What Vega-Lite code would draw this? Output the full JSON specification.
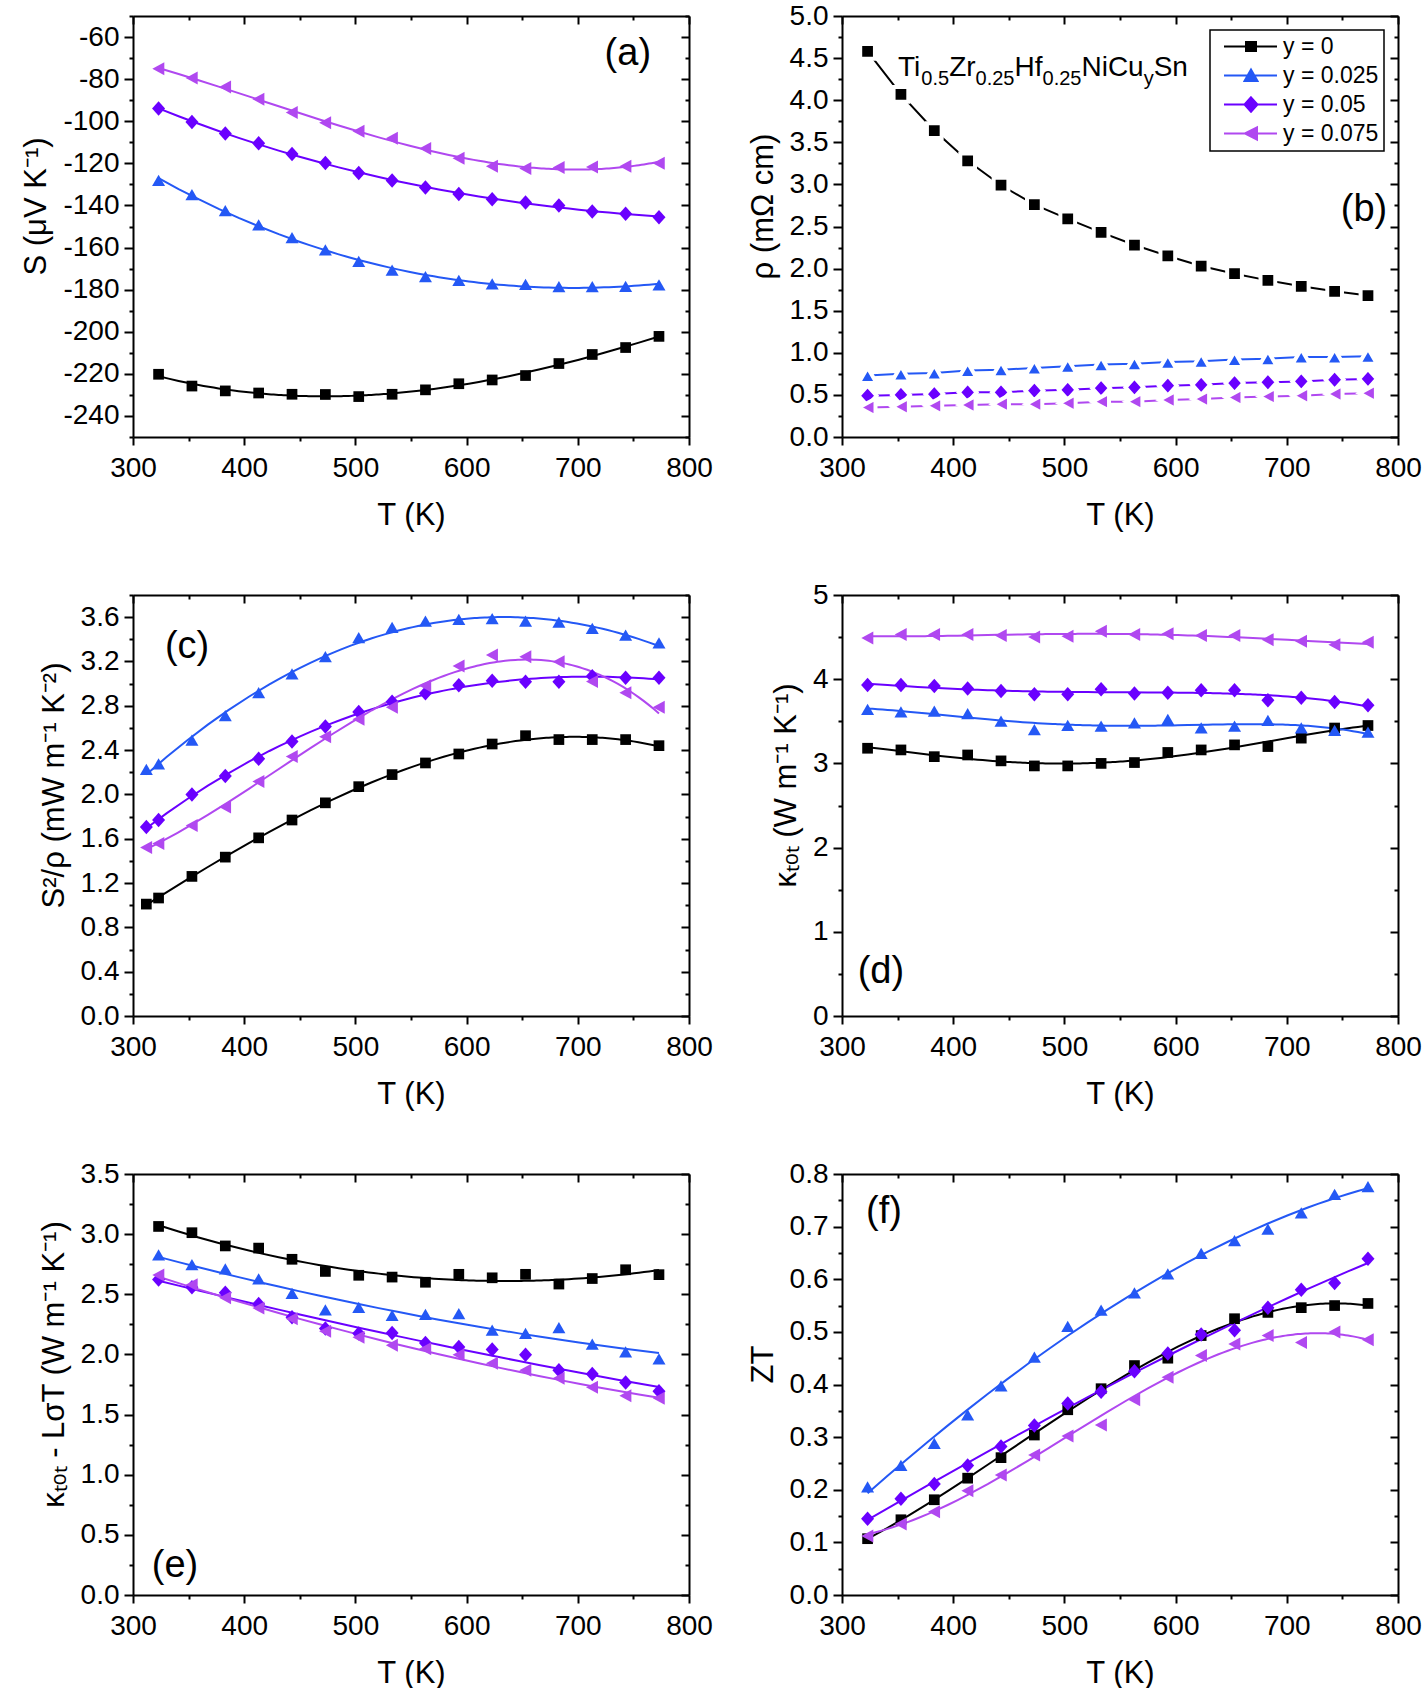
{
  "$schema": "https://vega.github.io/schema/vega-lite/v6.json",
  "background": "white",
  "padding": {"left": 20, "top": 2, "right": 0, "bottom": 0},
  "columns": 2,
  "spacing": {"row": 51, "column": 34},
  "resolve": {"scale": {"color": "independent", "shape": "independent", "stroke": "independent"}},
  "datasets": {
    "a": [
      {"T":323,"v":-220.2,"series":"y = 0"},{"T":353,"v":-225.8,"series":"y = 0"},{"T":383,"v":-228.1,"series":"y = 0"},{"T":413,"v":-229.1,"series":"y = 0"},{"T":443,"v":-229.7,"series":"y = 0"},{"T":473,"v":-229.8,"series":"y = 0"},{"T":503,"v":-230.8,"series":"y = 0"},{"T":533,"v":-229.7,"series":"y = 0"},{"T":563,"v":-227.6,"series":"y = 0"},{"T":593,"v":-224.7,"series":"y = 0"},{"T":623,"v":-222.9,"series":"y = 0"},{"T":653,"v":-220.8,"series":"y = 0"},{"T":683,"v":-215.1,"series":"y = 0"},{"T":713,"v":-210.8,"series":"y = 0"},{"T":743,"v":-207.5,"series":"y = 0"},{"T":773,"v":-202.2,"series":"y = 0"},
      {"T":323,"v":-128.1,"series":"y = 0.025"},{"T":353,"v":-134.9,"series":"y = 0.025"},{"T":383,"v":-142.5,"series":"y = 0.025"},{"T":413,"v":-149.3,"series":"y = 0.025"},{"T":443,"v":-155.3,"series":"y = 0.025"},{"T":473,"v":-161.2,"series":"y = 0.025"},{"T":503,"v":-166.6,"series":"y = 0.025"},{"T":533,"v":-170.8,"series":"y = 0.025"},{"T":563,"v":-173.9,"series":"y = 0.025"},{"T":593,"v":-175.6,"series":"y = 0.025"},{"T":623,"v":-177.3,"series":"y = 0.025"},{"T":653,"v":-177.6,"series":"y = 0.025"},{"T":683,"v":-178.6,"series":"y = 0.025"},{"T":713,"v":-178.6,"series":"y = 0.025"},{"T":743,"v":-178.5,"series":"y = 0.025"},{"T":773,"v":-177.8,"series":"y = 0.025"},
      {"T":323,"v":-93.9,"series":"y = 0.05"},{"T":353,"v":-100.3,"series":"y = 0.05"},{"T":383,"v":-105.8,"series":"y = 0.05"},{"T":413,"v":-110.5,"series":"y = 0.05"},{"T":443,"v":-115.6,"series":"y = 0.05"},{"T":473,"v":-119.8,"series":"y = 0.05"},{"T":503,"v":-124.6,"series":"y = 0.05"},{"T":533,"v":-128.1,"series":"y = 0.05"},{"T":563,"v":-131.5,"series":"y = 0.05"},{"T":593,"v":-134.6,"series":"y = 0.05"},{"T":623,"v":-137.1,"series":"y = 0.05"},{"T":653,"v":-138.6,"series":"y = 0.05"},{"T":683,"v":-140.0,"series":"y = 0.05"},{"T":713,"v":-142.9,"series":"y = 0.05"},{"T":743,"v":-143.9,"series":"y = 0.05"},{"T":773,"v":-145.6,"series":"y = 0.05"},
      {"T":323,"v":-75.1,"series":"y = 0.075"},{"T":353,"v":-79.5,"series":"y = 0.075"},{"T":383,"v":-83.7,"series":"y = 0.075"},{"T":413,"v":-89.5,"series":"y = 0.075"},{"T":443,"v":-95.9,"series":"y = 0.075"},{"T":473,"v":-100.7,"series":"y = 0.075"},{"T":503,"v":-104.7,"series":"y = 0.075"},{"T":533,"v":-108.1,"series":"y = 0.075"},{"T":563,"v":-112.9,"series":"y = 0.075"},{"T":593,"v":-117.6,"series":"y = 0.075"},{"T":623,"v":-121.4,"series":"y = 0.075"},{"T":653,"v":-122.4,"series":"y = 0.075"},{"T":683,"v":-122.0,"series":"y = 0.075"},{"T":713,"v":-121.7,"series":"y = 0.075"},{"T":743,"v":-121.4,"series":"y = 0.075"},{"T":773,"v":-120.0,"series":"y = 0.075"}
    ],
    "b": [
      {"T":323,"v":4.58,"series":"y = 0"},{"T":353,"v":4.07,"series":"y = 0"},{"T":383,"v":3.64,"series":"y = 0"},{"T":413,"v":3.28,"series":"y = 0"},{"T":443,"v":2.99,"series":"y = 0"},{"T":473,"v":2.76,"series":"y = 0"},{"T":503,"v":2.59,"series":"y = 0"},{"T":533,"v":2.43,"series":"y = 0"},{"T":563,"v":2.28,"series":"y = 0"},{"T":593,"v":2.15,"series":"y = 0"},{"T":623,"v":2.03,"series":"y = 0"},{"T":653,"v":1.94,"series":"y = 0"},{"T":683,"v":1.86,"series":"y = 0"},{"T":713,"v":1.79,"series":"y = 0"},{"T":743,"v":1.73,"series":"y = 0"},{"T":773,"v":1.68,"series":"y = 0"},
      {"T":323,"v":0.73,"series":"y = 0.025"},{"T":353,"v":0.75,"series":"y = 0.025"},{"T":383,"v":0.76,"series":"y = 0.025"},{"T":413,"v":0.79,"series":"y = 0.025"},{"T":443,"v":0.80,"series":"y = 0.025"},{"T":473,"v":0.82,"series":"y = 0.025"},{"T":503,"v":0.84,"series":"y = 0.025"},{"T":533,"v":0.86,"series":"y = 0.025"},{"T":563,"v":0.87,"series":"y = 0.025"},{"T":593,"v":0.89,"series":"y = 0.025"},{"T":623,"v":0.90,"series":"y = 0.025"},{"T":653,"v":0.92,"series":"y = 0.025"},{"T":683,"v":0.93,"series":"y = 0.025"},{"T":713,"v":0.95,"series":"y = 0.025"},{"T":743,"v":0.95,"series":"y = 0.025"},{"T":773,"v":0.96,"series":"y = 0.025"},
      {"T":323,"v":0.49,"series":"y = 0.05"},{"T":353,"v":0.50,"series":"y = 0.05"},{"T":383,"v":0.51,"series":"y = 0.05"},{"T":413,"v":0.53,"series":"y = 0.05"},{"T":443,"v":0.53,"series":"y = 0.05"},{"T":473,"v":0.55,"series":"y = 0.05"},{"T":503,"v":0.56,"series":"y = 0.05"},{"T":533,"v":0.58,"series":"y = 0.05"},{"T":563,"v":0.59,"series":"y = 0.05"},{"T":593,"v":0.61,"series":"y = 0.05"},{"T":623,"v":0.62,"series":"y = 0.05"},{"T":653,"v":0.64,"series":"y = 0.05"},{"T":683,"v":0.65,"series":"y = 0.05"},{"T":713,"v":0.66,"series":"y = 0.05"},{"T":743,"v":0.68,"series":"y = 0.05"},{"T":773,"v":0.69,"series":"y = 0.05"},
      {"T":323,"v":0.35,"series":"y = 0.075"},{"T":353,"v":0.36,"series":"y = 0.075"},{"T":383,"v":0.37,"series":"y = 0.075"},{"T":413,"v":0.38,"series":"y = 0.075"},{"T":443,"v":0.39,"series":"y = 0.075"},{"T":473,"v":0.39,"series":"y = 0.075"},{"T":503,"v":0.40,"series":"y = 0.075"},{"T":533,"v":0.42,"series":"y = 0.075"},{"T":563,"v":0.42,"series":"y = 0.075"},{"T":593,"v":0.44,"series":"y = 0.075"},{"T":623,"v":0.45,"series":"y = 0.075"},{"T":653,"v":0.47,"series":"y = 0.075"},{"T":683,"v":0.48,"series":"y = 0.075"},{"T":713,"v":0.49,"series":"y = 0.075"},{"T":743,"v":0.51,"series":"y = 0.075"},{"T":773,"v":0.52,"series":"y = 0.075"}
    ],
    "c": [
      {"T":312,"v":1.01,"series":"y = 0"},{"T":323,"v":1.065,"series":"y = 0"},{"T":353,"v":1.26,"series":"y = 0"},{"T":383,"v":1.434,"series":"y = 0"},{"T":413,"v":1.608,"series":"y = 0"},{"T":443,"v":1.769,"series":"y = 0"},{"T":473,"v":1.924,"series":"y = 0"},{"T":503,"v":2.07,"series":"y = 0"},{"T":533,"v":2.179,"series":"y = 0"},{"T":563,"v":2.284,"series":"y = 0"},{"T":593,"v":2.365,"series":"y = 0"},{"T":623,"v":2.455,"series":"y = 0"},{"T":653,"v":2.53,"series":"y = 0"},{"T":683,"v":2.495,"series":"y = 0"},{"T":713,"v":2.495,"series":"y = 0"},{"T":743,"v":2.495,"series":"y = 0"},{"T":773,"v":2.44,"series":"y = 0"},
      {"T":312,"v":2.225,"series":"y = 0.025"},{"T":323,"v":2.275,"series":"y = 0.025"},{"T":353,"v":2.49,"series":"y = 0.025"},{"T":383,"v":2.71,"series":"y = 0.025"},{"T":413,"v":2.917,"series":"y = 0.025"},{"T":443,"v":3.088,"series":"y = 0.025"},{"T":473,"v":3.243,"series":"y = 0.025"},{"T":503,"v":3.414,"series":"y = 0.025"},{"T":533,"v":3.507,"series":"y = 0.025"},{"T":563,"v":3.563,"series":"y = 0.025"},{"T":593,"v":3.578,"series":"y = 0.025"},{"T":623,"v":3.585,"series":"y = 0.025"},{"T":653,"v":3.563,"series":"y = 0.025"},{"T":683,"v":3.554,"series":"y = 0.025"},{"T":713,"v":3.498,"series":"y = 0.025"},{"T":743,"v":3.436,"series":"y = 0.025"},{"T":773,"v":3.367,"series":"y = 0.025"},
      {"T":312,"v":1.707,"series":"y = 0.05"},{"T":323,"v":1.769,"series":"y = 0.05"},{"T":353,"v":1.999,"series":"y = 0.05"},{"T":383,"v":2.166,"series":"y = 0.05"},{"T":413,"v":2.321,"series":"y = 0.05"},{"T":443,"v":2.477,"series":"y = 0.05"},{"T":473,"v":2.613,"series":"y = 0.05"},{"T":503,"v":2.744,"series":"y = 0.05"},{"T":533,"v":2.837,"series":"y = 0.05"},{"T":563,"v":2.914,"series":"y = 0.05"},{"T":593,"v":2.986,"series":"y = 0.05"},{"T":623,"v":3.026,"series":"y = 0.05"},{"T":653,"v":3.017,"series":"y = 0.05"},{"T":683,"v":3.017,"series":"y = 0.05"},{"T":713,"v":3.066,"series":"y = 0.05"},{"T":743,"v":3.054,"series":"y = 0.05"},{"T":773,"v":3.054,"series":"y = 0.05"},
      {"T":312,"v":1.521,"series":"y = 0.075"},{"T":323,"v":1.558,"series":"y = 0.075"},{"T":353,"v":1.719,"series":"y = 0.075"},{"T":383,"v":1.887,"series":"y = 0.075"},{"T":413,"v":2.117,"series":"y = 0.075"},{"T":443,"v":2.343,"series":"y = 0.075"},{"T":473,"v":2.52,"series":"y = 0.075"},{"T":503,"v":2.678,"series":"y = 0.075"},{"T":533,"v":2.787,"series":"y = 0.075"},{"T":563,"v":2.98,"series":"y = 0.075"},{"T":593,"v":3.16,"series":"y = 0.075"},{"T":623,"v":3.259,"series":"y = 0.075"},{"T":653,"v":3.243,"series":"y = 0.075"},{"T":683,"v":3.197,"series":"y = 0.075"},{"T":713,"v":3.02,"series":"y = 0.075"},{"T":743,"v":2.917,"series":"y = 0.075"},{"T":773,"v":2.787,"series":"y = 0.075"}
    ],
    "d": [
      {"T":323,"v":3.18,"series":"y = 0"},{"T":353,"v":3.16,"series":"y = 0"},{"T":383,"v":3.08,"series":"y = 0"},{"T":413,"v":3.10,"series":"y = 0"},{"T":443,"v":3.03,"series":"y = 0"},{"T":473,"v":2.97,"series":"y = 0"},{"T":503,"v":2.97,"series":"y = 0"},{"T":533,"v":3.00,"series":"y = 0"},{"T":563,"v":3.01,"series":"y = 0"},{"T":593,"v":3.13,"series":"y = 0"},{"T":623,"v":3.16,"series":"y = 0"},{"T":653,"v":3.22,"series":"y = 0"},{"T":683,"v":3.20,"series":"y = 0"},{"T":713,"v":3.30,"series":"y = 0"},{"T":743,"v":3.42,"series":"y = 0"},{"T":773,"v":3.45,"series":"y = 0"},
      {"T":323,"v":3.64,"series":"y = 0.025"},{"T":353,"v":3.61,"series":"y = 0.025"},{"T":383,"v":3.62,"series":"y = 0.025"},{"T":413,"v":3.59,"series":"y = 0.025"},{"T":443,"v":3.50,"series":"y = 0.025"},{"T":473,"v":3.40,"series":"y = 0.025"},{"T":503,"v":3.45,"series":"y = 0.025"},{"T":533,"v":3.44,"series":"y = 0.025"},{"T":563,"v":3.48,"series":"y = 0.025"},{"T":593,"v":3.52,"series":"y = 0.025"},{"T":623,"v":3.42,"series":"y = 0.025"},{"T":653,"v":3.44,"series":"y = 0.025"},{"T":683,"v":3.51,"series":"y = 0.025"},{"T":713,"v":3.42,"series":"y = 0.025"},{"T":743,"v":3.39,"series":"y = 0.025"},{"T":773,"v":3.37,"series":"y = 0.025"},
      {"T":323,"v":3.93,"series":"y = 0.05"},{"T":353,"v":3.93,"series":"y = 0.05"},{"T":383,"v":3.92,"series":"y = 0.05"},{"T":413,"v":3.89,"series":"y = 0.05"},{"T":443,"v":3.86,"series":"y = 0.05"},{"T":473,"v":3.82,"series":"y = 0.05"},{"T":503,"v":3.82,"series":"y = 0.05"},{"T":533,"v":3.88,"series":"y = 0.05"},{"T":563,"v":3.83,"series":"y = 0.05"},{"T":593,"v":3.84,"series":"y = 0.05"},{"T":623,"v":3.87,"series":"y = 0.05"},{"T":653,"v":3.87,"series":"y = 0.05"},{"T":683,"v":3.75,"series":"y = 0.05"},{"T":713,"v":3.78,"series":"y = 0.05"},{"T":743,"v":3.73,"series":"y = 0.05"},{"T":773,"v":3.69,"series":"y = 0.05"},
      {"T":323,"v":4.49,"series":"y = 0.075"},{"T":353,"v":4.53,"series":"y = 0.075"},{"T":383,"v":4.53,"series":"y = 0.075"},{"T":413,"v":4.53,"series":"y = 0.075"},{"T":443,"v":4.52,"series":"y = 0.075"},{"T":473,"v":4.50,"series":"y = 0.075"},{"T":503,"v":4.51,"series":"y = 0.075"},{"T":533,"v":4.57,"series":"y = 0.075"},{"T":563,"v":4.53,"series":"y = 0.075"},{"T":593,"v":4.54,"series":"y = 0.075"},{"T":623,"v":4.52,"series":"y = 0.075"},{"T":653,"v":4.52,"series":"y = 0.075"},{"T":683,"v":4.47,"series":"y = 0.075"},{"T":713,"v":4.45,"series":"y = 0.075"},{"T":743,"v":4.41,"series":"y = 0.075"},{"T":773,"v":4.44,"series":"y = 0.075"}
    ],
    "e": [
      {"T":323,"v":3.064,"series":"y = 0"},{"T":353,"v":3.012,"series":"y = 0"},{"T":383,"v":2.902,"series":"y = 0"},{"T":413,"v":2.884,"series":"y = 0"},{"T":443,"v":2.791,"series":"y = 0"},{"T":473,"v":2.69,"series":"y = 0"},{"T":503,"v":2.658,"series":"y = 0"},{"T":533,"v":2.643,"series":"y = 0"},{"T":563,"v":2.6,"series":"y = 0"},{"T":593,"v":2.666,"series":"y = 0"},{"T":623,"v":2.637,"series":"y = 0"},{"T":653,"v":2.666,"series":"y = 0"},{"T":683,"v":2.585,"series":"y = 0"},{"T":713,"v":2.631,"series":"y = 0"},{"T":743,"v":2.704,"series":"y = 0"},{"T":773,"v":2.663,"series":"y = 0"},
      {"T":323,"v":2.826,"series":"y = 0.025"},{"T":353,"v":2.745,"series":"y = 0.025"},{"T":383,"v":2.71,"series":"y = 0.025"},{"T":413,"v":2.628,"series":"y = 0.025"},{"T":443,"v":2.506,"series":"y = 0.025"},{"T":473,"v":2.37,"series":"y = 0.025"},{"T":503,"v":2.39,"series":"y = 0.025"},{"T":533,"v":2.324,"series":"y = 0.025"},{"T":563,"v":2.332,"series":"y = 0.025"},{"T":593,"v":2.338,"series":"y = 0.025"},{"T":623,"v":2.202,"series":"y = 0.025"},{"T":653,"v":2.173,"series":"y = 0.025"},{"T":683,"v":2.222,"series":"y = 0.025"},{"T":713,"v":2.085,"series":"y = 0.025"},{"T":743,"v":2.021,"series":"y = 0.025"},{"T":773,"v":1.963,"series":"y = 0.025"},
      {"T":323,"v":2.623,"series":"y = 0.05"},{"T":353,"v":2.559,"series":"y = 0.05"},{"T":383,"v":2.512,"series":"y = 0.05"},{"T":413,"v":2.419,"series":"y = 0.05"},{"T":443,"v":2.309,"series":"y = 0.05"},{"T":473,"v":2.216,"series":"y = 0.05"},{"T":503,"v":2.173,"series":"y = 0.05"},{"T":533,"v":2.178,"series":"y = 0.05"},{"T":563,"v":2.094,"series":"y = 0.05"},{"T":593,"v":2.062,"series":"y = 0.05"},{"T":623,"v":2.042,"series":"y = 0.05"},{"T":653,"v":1.998,"series":"y = 0.05"},{"T":683,"v":1.868,"series":"y = 0.05"},{"T":713,"v":1.838,"series":"y = 0.05"},{"T":743,"v":1.766,"series":"y = 0.05"},{"T":773,"v":1.693,"series":"y = 0.05"},
      {"T":323,"v":2.66,"series":"y = 0.075"},{"T":353,"v":2.579,"series":"y = 0.075"},{"T":383,"v":2.472,"series":"y = 0.075"},{"T":413,"v":2.385,"series":"y = 0.075"},{"T":443,"v":2.297,"series":"y = 0.075"},{"T":473,"v":2.193,"series":"y = 0.075"},{"T":503,"v":2.143,"series":"y = 0.075"},{"T":533,"v":2.077,"series":"y = 0.075"},{"T":563,"v":2.048,"series":"y = 0.075"},{"T":593,"v":1.998,"series":"y = 0.075"},{"T":623,"v":1.926,"series":"y = 0.075"},{"T":653,"v":1.868,"series":"y = 0.075"},{"T":683,"v":1.801,"series":"y = 0.075"},{"T":713,"v":1.728,"series":"y = 0.075"},{"T":743,"v":1.656,"series":"y = 0.075"},{"T":773,"v":1.635,"series":"y = 0.075"}
    ],
    "f": [
      {"T":323,"v":0.107,"series":"y = 0"},{"T":353,"v":0.143,"series":"y = 0"},{"T":383,"v":0.181,"series":"y = 0"},{"T":413,"v":0.222,"series":"y = 0"},{"T":443,"v":0.261,"series":"y = 0"},{"T":473,"v":0.304,"series":"y = 0"},{"T":503,"v":0.352,"series":"y = 0"},{"T":533,"v":0.392,"series":"y = 0"},{"T":563,"v":0.436,"series":"y = 0"},{"T":593,"v":0.45,"series":"y = 0"},{"T":623,"v":0.493,"series":"y = 0"},{"T":653,"v":0.525,"series":"y = 0"},{"T":683,"v":0.537,"series":"y = 0"},{"T":713,"v":0.546,"series":"y = 0"},{"T":743,"v":0.55,"series":"y = 0"},{"T":773,"v":0.554,"series":"y = 0"},
      {"T":323,"v":0.205,"series":"y = 0.025"},{"T":353,"v":0.246,"series":"y = 0.025"},{"T":383,"v":0.288,"series":"y = 0.025"},{"T":413,"v":0.342,"series":"y = 0.025"},{"T":443,"v":0.397,"series":"y = 0.025"},{"T":473,"v":0.452,"series":"y = 0.025"},{"T":503,"v":0.51,"series":"y = 0.025"},{"T":533,"v":0.541,"series":"y = 0.025"},{"T":563,"v":0.574,"series":"y = 0.025"},{"T":593,"v":0.61,"series":"y = 0.025"},{"T":623,"v":0.649,"series":"y = 0.025"},{"T":653,"v":0.673,"series":"y = 0.025"},{"T":683,"v":0.695,"series":"y = 0.025"},{"T":713,"v":0.726,"series":"y = 0.025"},{"T":743,"v":0.761,"series":"y = 0.025"},{"T":773,"v":0.776,"series":"y = 0.025"},
      {"T":323,"v":0.145,"series":"y = 0.05"},{"T":353,"v":0.183,"series":"y = 0.05"},{"T":383,"v":0.211,"series":"y = 0.05"},{"T":413,"v":0.246,"series":"y = 0.05"},{"T":443,"v":0.282,"series":"y = 0.05"},{"T":473,"v":0.322,"series":"y = 0.05"},{"T":503,"v":0.364,"series":"y = 0.05"},{"T":533,"v":0.386,"series":"y = 0.05"},{"T":563,"v":0.425,"series":"y = 0.05"},{"T":593,"v":0.459,"series":"y = 0.05"},{"T":623,"v":0.495,"series":"y = 0.05"},{"T":653,"v":0.503,"series":"y = 0.05"},{"T":683,"v":0.546,"series":"y = 0.05"},{"T":713,"v":0.58,"series":"y = 0.05"},{"T":743,"v":0.593,"series":"y = 0.05"},{"T":773,"v":0.639,"series":"y = 0.05"},
      {"T":323,"v":0.112,"series":"y = 0.075"},{"T":353,"v":0.135,"series":"y = 0.075"},{"T":383,"v":0.158,"series":"y = 0.075"},{"T":413,"v":0.198,"series":"y = 0.075"},{"T":443,"v":0.228,"series":"y = 0.075"},{"T":473,"v":0.266,"series":"y = 0.075"},{"T":503,"v":0.302,"series":"y = 0.075"},{"T":533,"v":0.323,"series":"y = 0.075"},{"T":563,"v":0.371,"series":"y = 0.075"},{"T":593,"v":0.414,"series":"y = 0.075"},{"T":623,"v":0.455,"series":"y = 0.075"},{"T":653,"v":0.477,"series":"y = 0.075"},{"T":683,"v":0.493,"series":"y = 0.075"},{"T":713,"v":0.48,"series":"y = 0.075"},{"T":743,"v":0.5,"series":"y = 0.075"},{"T":773,"v":0.485,"series":"y = 0.075"}
    ]
  },
  "concat": [
    {
      "width": 556, "height": 421,
      "data": {"name": "a"},
      "resolve": {"axis": {"x": "independent", "y": "independent"}},
      "layer": [
        {
          "transform": [{"regression": "v", "on": "T", "groupby": ["series"], "method": "poly", "order": 3}],
          "mark": {"type": "line", "strokeWidth": 2},
          "encoding": {
            "x": {"field": "T", "type": "quantitative", "scale": {"domain": [300, 800], "nice": false, "zero": false}, "axis": {"orient": "bottom", "values": [300,400,500,600,700,800], "tickSize": 8, "labelPadding": 9, "format": "d", "title": "T (K)", "titlePadding": 18}},
            "y": {"field": "v", "type": "quantitative", "scale": {"domain": [-250, -50], "nice": false, "zero": false}, "axis": {"orient": "left", "values": [-240,-220,-200,-180,-160,-140,-120,-100,-80,-60], "tickSize": 9, "labelPadding": 5, "labelExpr": "'' + datum.value", "title": "S (μV K⁻¹)", "titlePadding": 10, "titleY": 190}},
            "color": {"field": "series", "type": "nominal", "scale": {"domain": ["y = 0","y = 0.025","y = 0.05","y = 0.075"], "range": ["#000000","#2458F5","#6A00FF","#B048F0"]}, "legend": null}
          }
        },
        {
          "mark": {"type": "point", "filled": true, "opacity": 1, "size": 100},
          "encoding": {
            "x": {"field": "T", "type": "quantitative", "axis": {"orient": "top", "values": [300,400,500,600,700,800], "tickSize": -8, "labels": false, "title": null}},
            "y": {"field": "v", "type": "quantitative", "axis": {"orient": "right", "values": [-240,-220,-200,-180,-160,-140,-120,-100,-80,-60], "tickSize": -8, "labels": false, "title": null}},
            "color": {"field": "series", "type": "nominal", "legend": null},
            "shape": {"field": "series", "type": "nominal", "scale": {"domain": ["y = 0","y = 0.025","y = 0.05","y = 0.075"], "range": ["M-1.07,-1.07H1.07V1.07H-1.07Z","M-1.3,1.1L0,-1.15L1.3,1.1Z","M0,-1.45L1.3,0L0,1.45L-1.3,0Z","M-1.25,0L1.15,-1.3L1.15,1.3Z"]}, "legend": null}
          }
        },
        {
          "mark": {"type": "point", "opacity": 0},
          "encoding": {
            "x": {"field": "T", "type": "quantitative", "axis": {"orient": "bottom", "values": [350,450,550,650,750], "tickSize": 4, "labels": false, "domain": false, "title": null}},
            "y": {"field": "v", "type": "quantitative", "axis": {"orient": "left", "values": [-250,-230,-210,-190,-170,-150,-130,-110,-90,-70,-50], "tickSize": 4, "labels": false, "domain": false, "title": null}}
          }
        },
        {
          "mark": {"type": "point", "opacity": 0},
          "encoding": {
            "x": {"field": "T", "type": "quantitative", "axis": {"orient": "top", "values": [350,450,550,650,750], "tickSize": -4, "labels": false, "domain": false, "title": null}},
            "y": {"field": "v", "type": "quantitative", "axis": {"orient": "right", "values": [-250,-230,-210,-190,-170,-150,-130,-110,-90,-70,-50], "tickSize": -4, "labels": false, "domain": false, "title": null}}
          }
        },
        {
          "data": {"values": [{"label": "(a)"}]},
          "mark": {"type": "text", "fontSize": 38, "font": "Liberation Sans", "align": "center", "baseline": "middle", "color": "black"},
          "encoding": {"text": {"field": "label"}, "x": {"datum": 745, "type": "quantitative", "axis": null}, "y": {"datum": -68, "type": "quantitative", "axis": null}}
        }
      ]
    },
    {
      "width": 556, "height": 421,
      "data": {"name": "b"},
      "resolve": {"axis": {"x": "independent", "y": "independent"}, "scale": {"color": "independent", "shape": "independent", "stroke": "independent"}},
      "layer": [
        {
          "mark": {"type": "line", "strokeWidth": 2},
          "encoding": {
            "x": {"field": "T", "type": "quantitative", "scale": {"domain": [300, 800], "nice": false, "zero": false}, "axis": {"orient": "bottom", "values": [300,400,500,600,700,800], "tickSize": 8, "labelPadding": 9, "format": "d", "title": "T (K)", "titlePadding": 18}},
            "y": {"field": "v", "type": "quantitative", "scale": {"domain": [0, 5], "nice": false, "zero": false}, "axis": {"orient": "left", "values": [0,0.5,1,1.5,2,2.5,3,3.5,4,4.5,5], "tickSize": 9, "labelPadding": 5, "format": ".1f", "title": "ρ (mΩ cm)", "titlePadding": 10, "titleY": 190}},
            "color": {"field": "series", "type": "nominal", "scale": {"domain": ["y = 0","y = 0.025","y = 0.05","y = 0.075"], "range": ["#000000","#2458F5","#6A00FF","#B048F0"]}, "legend": null}
          }
        },
        {
          "mark": {"type": "point", "filled": true, "opacity": 1, "size": 190, "stroke": "white", "strokeWidth": 4},
          "encoding": {
            "x": {"field": "T", "type": "quantitative", "axis": {"orient": "top", "values": [300,400,500,600,700,800], "tickSize": -8, "labels": false, "title": null}},
            "y": {"field": "v", "type": "quantitative", "axis": {"orient": "right", "values": [0,0.5,1,1.5,2,2.5,3,3.5,4,4.5,5], "tickSize": -8, "labels": false, "title": null}},
            "color": {"field": "series", "type": "nominal", "scale": {"domain": ["y = 0","y = 0.025","y = 0.05","y = 0.075"], "range": ["#000000","#2458F5","#6A00FF","#B048F0"]}, "legend": null},
            "shape": {"field": "series", "type": "nominal", "scale": {"domain": ["y = 0","y = 0.025","y = 0.05","y = 0.075"], "range": ["M-1.07,-1.07H1.07V1.07H-1.07Z","M-1.3,1.1L0,-1.15L1.3,1.1Z","M0,-1.45L1.3,0L0,1.45L-1.3,0Z","M-1.25,0L1.15,-1.3L1.15,1.3Z"]}, "legend": null}
          }
        },
        {
          "mark": {"type": "point", "filled": true, "opacity": 0, "size": 400},
          "encoding": {
            "x": {"field": "T", "type": "quantitative", "axis": null},
            "y": {"field": "v", "type": "quantitative", "axis": null},
            "color": {"field": "series", "type": "nominal", "scale": {"domain": ["y = 0","y = 0.025","y = 0.05","y = 0.075"], "range": ["#000000","#2458F5","#6A00FF","#B048F0"]}, "legend": {
              "orient": "top-right", "offset": 14, "title": null, "padding": 5, "rowPadding": 5,
              "labelFont": "Liberation Sans", "labelFontSize": 23, "labelColor": "black", "labelOffset": 45,
              "symbolSize": 400, "symbolStrokeWidth": 2, "symbolOpacity": 1, "strokeColor": "black", "fillColor": "white"
            }},
            "stroke": {"field": "series", "type": "nominal", "scale": {"domain": ["y = 0","y = 0.025","y = 0.05","y = 0.075"], "range": ["#000000","#2458F5","#6A00FF","#B048F0"]}},
            "shape": {"field": "series", "type": "nominal", "scale": {"domain": ["y = 0","y = 0.025","y = 0.05","y = 0.075"], "range": [
              "M-0.25,0H5.05M1.95,-0.45H2.95V0.45H1.95ZM1.95,-0.3H2.95M1.95,-0.15H2.95M1.95,0.15H2.95M1.95,0.3H2.95",
              "M-0.25,0H5.05M1.8,0.55L2.45,-0.6L3.1,0.55ZM2.365,-0.45H2.535M2.28,-0.3H2.62M2.196,-0.15H2.704M2.026,0.15H2.874M1.941,0.3H2.959M1.857,0.45H3.043",
              "M-0.25,0H5.05M2.45,-0.72L3.1,0L2.45,0.72L1.8,0ZM2.342,-0.6H2.558M2.206,-0.45H2.694M2.071,-0.3H2.829M1.935,-0.15H2.965M1.935,0.15H2.965M2.071,0.3H2.829M2.206,0.45H2.694M2.342,0.6H2.558",
              "M-0.25,0H5.05M1.85,0L3.05,-0.62L3.05,0.62ZM2.721,-0.45H3.05M2.431,-0.3H3.05M2.14,-0.15H3.05M2.14,0.15H3.05M2.431,0.3H3.05M2.721,0.45H3.05"
            ]}}
          }
        },
        {
          "mark": {"type": "point", "opacity": 0},
          "encoding": {
            "x": {"field": "T", "type": "quantitative", "axis": {"orient": "bottom", "values": [350,450,550,650,750], "tickSize": 4, "labels": false, "domain": false, "title": null}},
            "y": {"field": "v", "type": "quantitative", "axis": {"orient": "left", "values": [0.25,0.75,1.25,1.75,2.25,2.75,3.25,3.75,4.25,4.75], "tickSize": 4, "labels": false, "domain": false, "title": null}}
          }
        },
        {
          "mark": {"type": "point", "opacity": 0},
          "encoding": {
            "x": {"field": "T", "type": "quantitative", "axis": {"orient": "top", "values": [350,450,550,650,750], "tickSize": -4, "labels": false, "domain": false, "title": null}},
            "y": {"field": "v", "type": "quantitative", "axis": {"orient": "right", "values": [0.25,0.75,1.25,1.75,2.25,2.75,3.25,3.75,4.25,4.75], "tickSize": -4, "labels": false, "domain": false, "title": null}}
          }
        },
        {
          "data": {"values": [{"label": "(b)"}]},
          "mark": {"type": "text", "fontSize": 38, "font": "Liberation Sans", "align": "center", "baseline": "middle", "color": "black"},
          "encoding": {"text": {"field": "label"}, "x": {"datum": 769.4, "type": "quantitative", "axis": null}, "y": {"datum": 2.7, "type": "quantitative", "axis": null}}
        },
        {
          "data": {"values": [{"label": "Ti"}]},
          "mark": {"type": "text", "fontSize": 28, "font": "Liberation Sans", "align": "left", "baseline": "alphabetic", "color": "black", "dx": 0},
          "encoding": {"text": {"field": "label"}, "x": {"datum": 350.4, "type": "quantitative", "axis": null}, "y": {"datum": 4.286, "type": "quantitative", "axis": null}}
        },
        {
          "data": {"values": [{"label": "0.5"}]},
          "mark": {"type": "text", "fontSize": 20, "font": "Liberation Sans", "align": "left", "baseline": "alphabetic", "color": "black", "dx": 23.3, "dy": 9},
          "encoding": {"text": {"field": "label"}, "x": {"datum": 350.4, "type": "quantitative", "axis": null}, "y": {"datum": 4.286, "type": "quantitative", "axis": null}}
        },
        {
          "data": {"values": [{"label": "Zr"}]},
          "mark": {"type": "text", "fontSize": 28, "font": "Liberation Sans", "align": "left", "baseline": "alphabetic", "color": "black", "dx": 51.1},
          "encoding": {"text": {"field": "label"}, "x": {"datum": 350.4, "type": "quantitative", "axis": null}, "y": {"datum": 4.286, "type": "quantitative", "axis": null}}
        },
        {
          "data": {"values": [{"label": "0.25"}]},
          "mark": {"type": "text", "fontSize": 20, "font": "Liberation Sans", "align": "left", "baseline": "alphabetic", "color": "black", "dx": 77.5, "dy": 9},
          "encoding": {"text": {"field": "label"}, "x": {"datum": 350.4, "type": "quantitative", "axis": null}, "y": {"datum": 4.286, "type": "quantitative", "axis": null}}
        },
        {
          "data": {"values": [{"label": "Hf"}]},
          "mark": {"type": "text", "fontSize": 28, "font": "Liberation Sans", "align": "left", "baseline": "alphabetic", "color": "black", "dx": 116.5},
          "encoding": {"text": {"field": "label"}, "x": {"datum": 350.4, "type": "quantitative", "axis": null}, "y": {"datum": 4.286, "type": "quantitative", "axis": null}}
        },
        {
          "data": {"values": [{"label": "0.25"}]},
          "mark": {"type": "text", "fontSize": 20, "font": "Liberation Sans", "align": "left", "baseline": "alphabetic", "color": "black", "dx": 144.5, "dy": 9},
          "encoding": {"text": {"field": "label"}, "x": {"datum": 350.4, "type": "quantitative", "axis": null}, "y": {"datum": 4.286, "type": "quantitative", "axis": null}}
        },
        {
          "data": {"values": [{"label": "NiCu"}]},
          "mark": {"type": "text", "fontSize": 28, "font": "Liberation Sans", "align": "left", "baseline": "alphabetic", "color": "black", "dx": 183.4},
          "encoding": {"text": {"field": "label"}, "x": {"datum": 350.4, "type": "quantitative", "axis": null}, "y": {"datum": 4.286, "type": "quantitative", "axis": null}}
        },
        {
          "data": {"values": [{"label": "y"}]},
          "mark": {"type": "text", "fontSize": 20, "font": "Liberation Sans", "align": "left", "baseline": "alphabetic", "color": "black", "dx": 245.6, "dy": 9},
          "encoding": {"text": {"field": "label"}, "x": {"datum": 350.4, "type": "quantitative", "axis": null}, "y": {"datum": 4.286, "type": "quantitative", "axis": null}}
        },
        {
          "data": {"values": [{"label": "Sn"}]},
          "mark": {"type": "text", "fontSize": 28, "font": "Liberation Sans", "align": "left", "baseline": "alphabetic", "color": "black", "dx": 255.6},
          "encoding": {"text": {"field": "label"}, "x": {"datum": 350.4, "type": "quantitative", "axis": null}, "y": {"datum": 4.286, "type": "quantitative", "axis": null}}
        }
      ]
    },
    {
      "width": 556, "height": 421,
      "data": {"name": "c"},
      "resolve": {"axis": {"x": "independent", "y": "independent"}},
      "layer": [
        {
          "transform": [{"regression": "v", "on": "T", "groupby": ["series"], "method": "poly", "order": 3}],
          "mark": {"type": "line", "strokeWidth": 2},
          "encoding": {
            "x": {"field": "T", "type": "quantitative", "scale": {"domain": [300, 800], "nice": false, "zero": false}, "axis": {"orient": "bottom", "values": [300,400,500,600,700,800], "tickSize": 8, "labelPadding": 9, "format": "d", "title": "T (K)", "titlePadding": 18}},
            "y": {"field": "v", "type": "quantitative", "scale": {"domain": [0, 3.8], "nice": false, "zero": false}, "axis": {"orient": "left", "values": [0,0.4,0.8,1.2,1.6,2.0,2.4,2.8,3.2,3.6], "tickSize": 9, "labelPadding": 5, "format": ".1f", "title": "S²/ρ (mW m⁻¹ K⁻²)", "titlePadding": 10, "titleY": 190}},
            "color": {"field": "series", "type": "nominal", "scale": {"domain": ["y = 0","y = 0.025","y = 0.05","y = 0.075"], "range": ["#000000","#2458F5","#6A00FF","#B048F0"]}, "legend": null}
          }
        },
        {
          "mark": {"type": "point", "filled": true, "opacity": 1, "size": 100},
          "encoding": {
            "x": {"field": "T", "type": "quantitative", "axis": {"orient": "top", "values": [300,400,500,600,700,800], "tickSize": -8, "labels": false, "title": null}},
            "y": {"field": "v", "type": "quantitative", "axis": {"orient": "right", "values": [0,0.4,0.8,1.2,1.6,2.0,2.4,2.8,3.2,3.6], "tickSize": -8, "labels": false, "title": null}},
            "color": {"field": "series", "type": "nominal", "legend": null},
            "shape": {"field": "series", "type": "nominal", "scale": {"domain": ["y = 0","y = 0.025","y = 0.05","y = 0.075"], "range": ["M-1.07,-1.07H1.07V1.07H-1.07Z","M-1.3,1.1L0,-1.15L1.3,1.1Z","M0,-1.45L1.3,0L0,1.45L-1.3,0Z","M-1.25,0L1.15,-1.3L1.15,1.3Z"]}, "legend": null}
          }
        },
        {
          "mark": {"type": "point", "opacity": 0},
          "encoding": {
            "x": {"field": "T", "type": "quantitative", "axis": {"orient": "bottom", "values": [350,450,550,650,750], "tickSize": 4, "labels": false, "domain": false, "title": null}},
            "y": {"field": "v", "type": "quantitative", "axis": {"orient": "left", "values": [0.2,0.6,1.0,1.4,1.8,2.2,2.6,3.0,3.4,3.8], "tickSize": 4, "labels": false, "domain": false, "title": null}}
          }
        },
        {
          "mark": {"type": "point", "opacity": 0},
          "encoding": {
            "x": {"field": "T", "type": "quantitative", "axis": {"orient": "top", "values": [350,450,550,650,750], "tickSize": -4, "labels": false, "domain": false, "title": null}},
            "y": {"field": "v", "type": "quantitative", "axis": {"orient": "right", "values": [0.2,0.6,1.0,1.4,1.8,2.2,2.6,3.0,3.4,3.8], "tickSize": -4, "labels": false, "domain": false, "title": null}}
          }
        },
        {
          "data": {"values": [{"label": "(c)"}]},
          "mark": {"type": "text", "fontSize": 38, "font": "Liberation Sans", "align": "center", "baseline": "middle", "color": "black"},
          "encoding": {"text": {"field": "label"}, "x": {"datum": 348.6, "type": "quantitative", "axis": null}, "y": {"datum": 3.327, "type": "quantitative", "axis": null}}
        }
      ]
    },
    {
      "width": 556, "height": 421,
      "data": {"name": "d"},
      "resolve": {"axis": {"x": "independent", "y": "independent"}},
      "layer": [
        {
          "transform": [{"regression": "v", "on": "T", "groupby": ["series"], "method": "poly", "order": 4}],
          "mark": {"type": "line", "strokeWidth": 2},
          "encoding": {
            "x": {"field": "T", "type": "quantitative", "scale": {"domain": [300, 800], "nice": false, "zero": false}, "axis": {"orient": "bottom", "values": [300,400,500,600,700,800], "tickSize": 8, "labelPadding": 9, "format": "d", "title": "T (K)", "titlePadding": 18}},
            "y": {"field": "v", "type": "quantitative", "scale": {"domain": [0, 5], "nice": false, "zero": false}, "axis": {"orient": "left", "values": [0,1,2,3,4,5], "tickSize": 9, "labelPadding": 5, "format": "d", "title": "κₜₒₜ (W m⁻¹ K⁻¹)", "titlePadding": 10, "titleY": 190}},
            "color": {"field": "series", "type": "nominal", "scale": {"domain": ["y = 0","y = 0.025","y = 0.05","y = 0.075"], "range": ["#000000","#2458F5","#6A00FF","#B048F0"]}, "legend": null}
          }
        },
        {
          "mark": {"type": "point", "filled": true, "opacity": 1, "size": 100},
          "encoding": {
            "x": {"field": "T", "type": "quantitative", "axis": {"orient": "top", "values": [300,400,500,600,700,800], "tickSize": -8, "labels": false, "title": null}},
            "y": {"field": "v", "type": "quantitative", "axis": {"orient": "right", "values": [0,1,2,3,4,5], "tickSize": -8, "labels": false, "title": null}},
            "color": {"field": "series", "type": "nominal", "legend": null},
            "shape": {"field": "series", "type": "nominal", "scale": {"domain": ["y = 0","y = 0.025","y = 0.05","y = 0.075"], "range": ["M-1.07,-1.07H1.07V1.07H-1.07Z","M-1.3,1.1L0,-1.15L1.3,1.1Z","M0,-1.45L1.3,0L0,1.45L-1.3,0Z","M-1.25,0L1.15,-1.3L1.15,1.3Z"]}, "legend": null}
          }
        },
        {
          "mark": {"type": "point", "opacity": 0},
          "encoding": {
            "x": {"field": "T", "type": "quantitative", "axis": {"orient": "bottom", "values": [350,450,550,650,750], "tickSize": 4, "labels": false, "domain": false, "title": null}},
            "y": {"field": "v", "type": "quantitative", "axis": {"orient": "left", "values": [0.5,1.5,2.5,3.5,4.5], "tickSize": 4, "labels": false, "domain": false, "title": null}}
          }
        },
        {
          "mark": {"type": "point", "opacity": 0},
          "encoding": {
            "x": {"field": "T", "type": "quantitative", "axis": {"orient": "top", "values": [350,450,550,650,750], "tickSize": -4, "labels": false, "domain": false, "title": null}},
            "y": {"field": "v", "type": "quantitative", "axis": {"orient": "right", "values": [0.5,1.5,2.5,3.5,4.5], "tickSize": -4, "labels": false, "domain": false, "title": null}}
          }
        },
        {
          "data": {"values": [{"label": "(d)"}]},
          "mark": {"type": "text", "fontSize": 38, "font": "Liberation Sans", "align": "center", "baseline": "middle", "color": "black"},
          "encoding": {"text": {"field": "label"}, "x": {"datum": 335, "type": "quantitative", "axis": null}, "y": {"datum": 0.527, "type": "quantitative", "axis": null}}
        }
      ]
    },
    {
      "width": 556, "height": 421,
      "data": {"name": "e"},
      "resolve": {"axis": {"x": "independent", "y": "independent"}},
      "layer": [
        {
          "transform": [{"regression": "v", "on": "T", "groupby": ["series"], "method": "poly", "order": 2}],
          "mark": {"type": "line", "strokeWidth": 2},
          "encoding": {
            "x": {"field": "T", "type": "quantitative", "scale": {"domain": [300, 800], "nice": false, "zero": false}, "axis": {"orient": "bottom", "values": [300,400,500,600,700,800], "tickSize": 8, "labelPadding": 9, "format": "d", "title": "T (K)", "titlePadding": 18}},
            "y": {"field": "v", "type": "quantitative", "scale": {"domain": [0, 3.5], "nice": false, "zero": false}, "axis": {"orient": "left", "values": [0,0.5,1,1.5,2,2.5,3,3.5], "tickSize": 9, "labelPadding": 5, "format": ".1f", "title": "κₜₒₜ - LσT (W m⁻¹ K⁻¹)", "titlePadding": 10, "titleY": 190}},
            "color": {"field": "series", "type": "nominal", "scale": {"domain": ["y = 0","y = 0.025","y = 0.05","y = 0.075"], "range": ["#000000","#2458F5","#6A00FF","#B048F0"]}, "legend": null}
          }
        },
        {
          "mark": {"type": "point", "filled": true, "opacity": 1, "size": 100},
          "encoding": {
            "x": {"field": "T", "type": "quantitative", "axis": {"orient": "top", "values": [300,400,500,600,700,800], "tickSize": -8, "labels": false, "title": null}},
            "y": {"field": "v", "type": "quantitative", "axis": {"orient": "right", "values": [0,0.5,1,1.5,2,2.5,3,3.5], "tickSize": -8, "labels": false, "title": null}},
            "color": {"field": "series", "type": "nominal", "legend": null},
            "shape": {"field": "series", "type": "nominal", "scale": {"domain": ["y = 0","y = 0.025","y = 0.05","y = 0.075"], "range": ["M-1.07,-1.07H1.07V1.07H-1.07Z","M-1.3,1.1L0,-1.15L1.3,1.1Z","M0,-1.45L1.3,0L0,1.45L-1.3,0Z","M-1.25,0L1.15,-1.3L1.15,1.3Z"]}, "legend": null}
          }
        },
        {
          "mark": {"type": "point", "opacity": 0},
          "encoding": {
            "x": {"field": "T", "type": "quantitative", "axis": {"orient": "bottom", "values": [350,450,550,650,750], "tickSize": 4, "labels": false, "domain": false, "title": null}},
            "y": {"field": "v", "type": "quantitative", "axis": {"orient": "left", "values": [0.25,0.75,1.25,1.75,2.25,2.75,3.25], "tickSize": 4, "labels": false, "domain": false, "title": null}}
          }
        },
        {
          "mark": {"type": "point", "opacity": 0},
          "encoding": {
            "x": {"field": "T", "type": "quantitative", "axis": {"orient": "top", "values": [350,450,550,650,750], "tickSize": -4, "labels": false, "domain": false, "title": null}},
            "y": {"field": "v", "type": "quantitative", "axis": {"orient": "right", "values": [0.25,0.75,1.25,1.75,2.25,2.75,3.25], "tickSize": -4, "labels": false, "domain": false, "title": null}}
          }
        },
        {
          "data": {"values": [{"label": "(e)"}]},
          "mark": {"type": "text", "fontSize": 38, "font": "Liberation Sans", "align": "center", "baseline": "middle", "color": "black"},
          "encoding": {"text": {"field": "label"}, "x": {"datum": 337.8, "type": "quantitative", "axis": null}, "y": {"datum": 0.244, "type": "quantitative", "axis": null}}
        }
      ]
    },
    {
      "width": 556, "height": 421,
      "data": {"name": "f"},
      "resolve": {"axis": {"x": "independent", "y": "independent"}},
      "layer": [
        {
          "transform": [{"regression": "v", "on": "T", "groupby": ["series"], "method": "poly", "order": 3}],
          "mark": {"type": "line", "strokeWidth": 2},
          "encoding": {
            "x": {"field": "T", "type": "quantitative", "scale": {"domain": [300, 800], "nice": false, "zero": false}, "axis": {"orient": "bottom", "values": [300,400,500,600,700,800], "tickSize": 8, "labelPadding": 9, "format": "d", "title": "T (K)", "titlePadding": 18}},
            "y": {"field": "v", "type": "quantitative", "scale": {"domain": [0, 0.8], "nice": false, "zero": false}, "axis": {"orient": "left", "values": [0,0.1,0.2,0.3,0.4,0.5,0.6,0.7,0.8], "tickSize": 9, "labelPadding": 5, "format": ".1f", "title": "ZT", "titlePadding": 10, "titleY": 190}},
            "color": {"field": "series", "type": "nominal", "scale": {"domain": ["y = 0","y = 0.025","y = 0.05","y = 0.075"], "range": ["#000000","#2458F5","#6A00FF","#B048F0"]}, "legend": null}
          }
        },
        {
          "mark": {"type": "point", "filled": true, "opacity": 1, "size": 100},
          "encoding": {
            "x": {"field": "T", "type": "quantitative", "axis": {"orient": "top", "values": [300,400,500,600,700,800], "tickSize": -8, "labels": false, "title": null}},
            "y": {"field": "v", "type": "quantitative", "axis": {"orient": "right", "values": [0,0.1,0.2,0.3,0.4,0.5,0.6,0.7,0.8], "tickSize": -8, "labels": false, "title": null}},
            "color": {"field": "series", "type": "nominal", "legend": null},
            "shape": {"field": "series", "type": "nominal", "scale": {"domain": ["y = 0","y = 0.025","y = 0.05","y = 0.075"], "range": ["M-1.07,-1.07H1.07V1.07H-1.07Z","M-1.3,1.1L0,-1.15L1.3,1.1Z","M0,-1.45L1.3,0L0,1.45L-1.3,0Z","M-1.25,0L1.15,-1.3L1.15,1.3Z"]}, "legend": null}
          }
        },
        {
          "mark": {"type": "point", "opacity": 0},
          "encoding": {
            "x": {"field": "T", "type": "quantitative", "axis": {"orient": "bottom", "values": [350,450,550,650,750], "tickSize": 4, "labels": false, "domain": false, "title": null}},
            "y": {"field": "v", "type": "quantitative", "axis": {"orient": "left", "values": [0.05,0.15,0.25,0.35,0.45,0.55,0.65,0.75], "tickSize": 4, "labels": false, "domain": false, "title": null}}
          }
        },
        {
          "mark": {"type": "point", "opacity": 0},
          "encoding": {
            "x": {"field": "T", "type": "quantitative", "axis": {"orient": "top", "values": [350,450,550,650,750], "tickSize": -4, "labels": false, "domain": false, "title": null}},
            "y": {"field": "v", "type": "quantitative", "axis": {"orient": "right", "values": [0.05,0.15,0.25,0.35,0.45,0.55,0.65,0.75], "tickSize": -4, "labels": false, "domain": false, "title": null}}
          }
        },
        {
          "data": {"values": [{"label": "(f)"}]},
          "mark": {"type": "text", "fontSize": 38, "font": "Liberation Sans", "align": "center", "baseline": "middle", "color": "black"},
          "encoding": {"text": {"field": "label"}, "x": {"datum": 337.8, "type": "quantitative", "axis": null}, "y": {"datum": 0.727, "type": "quantitative", "axis": null}}
        }
      ]
    }
  ],
  "config": {
    "view": {"stroke": null},
    "font": "Liberation Sans",
    "axis": {
      "domainColor": "black", "domainWidth": 2, "tickColor": "black", "tickWidth": 2,
      "labelColor": "black", "labelFont": "Liberation Sans", "labelFontSize": 28,
      "titleFont": "Liberation Sans", "titleFontSize": 31, "titleFontWeight": "normal", "titleColor": "black",
      "grid": false, "labelFlush": false, "labelOverlap": false
    },
    "legend": {"strokeWidth": 1.5}
  }
}
